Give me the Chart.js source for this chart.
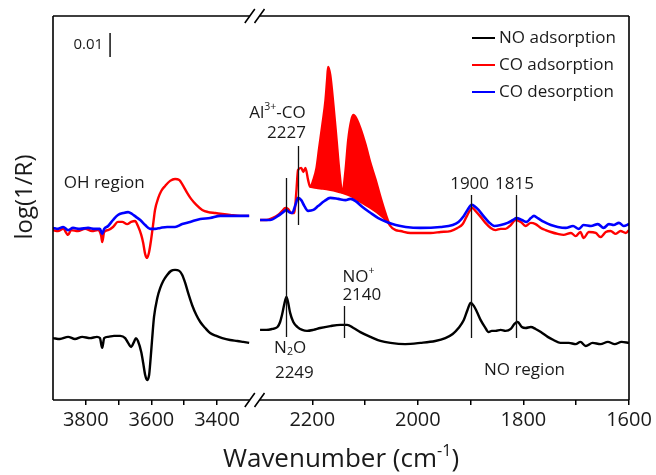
<!DOCTYPE html>
<html><head><meta charset="utf-8">
<script src="https://cdn.jsdelivr.net/npm/chart.js@4.4.0/dist/chart.umd.min.js"></script>
<style>html,body{margin:0;padding:0;background:#fff}canvas{display:block}</style>
</head><body>
<canvas id="c" width="656" height="475"></canvas>
<script>
// ---------- DATA (wavenumber in cm-1, log(1/R) in units of 0.001) ----------
const NO_ADS_WN = [3900,3879,3854,3833,3811,3787,3766,3757,3750,3744,3732,3714,3695,3680,3671,3662,3653,3647,3641,3631,3625,3619,3613,3607,3604,3598,3592,3582,3573,3564,3552,3540,3528,3515,3506,3497,3488,3476,3463,3451,3436,3421,3402,3384,3360,3338,3320,3302,
  2299,2287,2276,2266,2261,2257,2253,2249,2246,2242,2236,2228,2219,2210,2198,2185,2166,2147,2134,2122,2109,2090,2071,2052,2024,1995,1967,1948,1934,1923,1913,1906,1900,1894,1888,1881,1873,1866,1860,1853,1843,1834,1824,1817,1811,1803,1796,1786,1777,1767,1754,1743,1730,1714,1701,1692,1682,1669,1654,1640,1627,1614,1600];
const NO_ADS_VAL = [25.8,25.4,26.3,25.4,26.3,25.8,26.3,25.8,21.7,25.8,26.3,26.7,26.7,25.8,23.8,22.1,24.2,25.8,24.6,20.0,15.4,10.4,8.3,10.4,14.6,25.0,34.6,42.5,46.7,49.6,52.1,53.8,54.2,53.8,52.1,48.8,44.6,39.6,35.4,32.5,30.0,27.9,26.7,25.8,25.0,24.6,24.2,23.8,
  29.2,29.2,29.6,30.4,32.5,35.8,40.0,42.9,40.8,36.3,32.5,30.4,29.2,28.8,29.2,30.0,30.8,31.3,31.3,30.0,28.3,26.3,24.6,23.8,23.3,23.8,24.6,25.8,27.5,30.0,33.3,37.5,40.4,39.2,36.7,33.3,30.4,28.3,28.8,28.8,29.2,28.8,29.6,31.7,32.5,30.4,30.0,30.4,29.6,28.3,26.3,25.0,23.8,23.8,23.3,24.2,22.5,23.8,23.3,24.2,23.3,24.2,23.8];

const CO_ADS_WN = [3900,3885,3869,3854,3845,3824,3802,3781,3763,3753,3750,3744,3732,3717,3702,3689,3674,3662,3650,3641,3631,3625,3619,3613,3607,3601,3595,3589,3579,3570,3558,3543,3528,3515,3503,3491,3479,3463,3445,3427,3405,3384,3360,3329,3302,
  2299,2287,2276,2265,2257,2251,2246,2240,2234,2230,2227,2221,2217,2213,2208,2204,2198,2192,2187,2181,2175,2172,2170,2166,2160,2154,2149,2143,2137,2132,2126,2122,2117,2109,2099,2090,2080,2071,2061,2052,2042,2033,2014,1995,1976,1957,1938,1925,1915,1908,1902,1897,1891,1881,1872,1862,1853,1843,1834,1824,1815,1805,1796,1786,1777,1767,1758,1748,1735,1724,1710,1701,1692,1686,1676,1663,1654,1644,1635,1625,1616,1606,1600];
const CO_ADS_VAL = [70.8,70.4,71.3,68.8,70.8,70.4,71.3,70.4,70.8,68.3,65.8,70.0,70.8,72.1,74.2,74.2,73.3,74.2,74.6,72.5,68.8,65.4,60.8,59.2,61.7,66.7,72.9,79.2,84.2,87.1,89.2,91.3,92.1,91.7,89.2,86.3,83.8,81.3,79.2,78.3,77.9,77.5,77.1,76.7,76.7,
  75.0,75.0,75.8,77.1,78.8,80.0,79.6,77.9,77.9,87.5,95.8,96.7,95.0,96.7,91.7,88.8,91.7,96.7,105.0,114.6,125.0,133.3,138.8,135.4,122.9,108.3,95.8,86.3,95.8,108.3,116.7,118.8,117.5,113.3,106.3,98.8,91.7,84.6,77.5,72.5,70.8,70.4,69.6,69.6,69.6,70.0,70.4,71.7,73.3,76.3,78.8,80.0,78.8,76.3,73.8,71.7,70.8,71.3,71.3,72.9,75.0,74.2,72.5,73.8,73.3,71.7,70.8,70.0,69.2,68.8,69.6,68.3,70.0,67.5,70.0,69.6,67.9,70.0,70.4,69.2,70.4,69.6,70.8];

// lower envelope of the gas-phase CO rotational band (2204-2052 cm-1)
const CO_BAND_LOW_WN  = [2204,2192,2180,2166,2155,2143,2127,2109,2090,2071,2061,2052];
const CO_BAND_LOW_VAL = [88.8,88.3,88.0,87.5,87.0,86.3,85.0,82.5,80.0,77.0,75.0,72.5];

const CO_DES_WN = [3900,3885,3869,3854,3839,3818,3793,3772,3757,3750,3744,3732,3717,3702,3686,3671,3659,3647,3634,3619,3604,3589,3573,3552,3528,3506,3482,3451,3421,3390,3344,3302,
  2299,2280,2265,2255,2249,2244,2238,2232,2227,2221,2215,2208,2198,2189,2177,2166,2151,2137,2128,2118,2105,2090,2075,2059,2042,2023,1995,1957,1934,1923,1913,1906,1898,1893,1885,1876,1866,1855,1843,1830,1820,1813,1803,1794,1786,1780,1773,1761,1748,1735,1720,1706,1695,1686,1672,1659,1648,1638,1629,1619,1610,1600];
const CO_DES_VAL = [71.7,71.3,72.1,70.8,71.7,71.3,71.7,71.3,71.3,69.2,71.3,72.5,75.0,77.1,77.9,78.3,77.5,76.3,75.0,72.9,71.3,71.3,71.7,72.1,72.1,73.3,74.2,75.4,75.8,76.7,76.7,76.7,
  75.0,75.0,76.7,78.3,79.2,78.3,77.9,81.3,84.2,83.3,80.8,78.8,79.2,80.8,82.9,84.2,83.8,83.3,83.8,82.9,80.4,78.0,75.8,74.2,72.9,72.1,71.7,72.1,72.9,74.2,76.7,79.2,81.3,80.8,79.2,76.7,74.2,72.5,72.9,73.8,75.0,75.8,75.0,74.2,75.8,76.7,75.8,74.2,72.9,72.1,71.7,72.5,71.3,72.9,72.5,73.3,71.7,73.3,72.9,73.8,72.5,73.3];

const SERIES_LABELS = ['NO adsorption','CO adsorption','CO desorption'];
const X_TICKS_WN = [3800,3700,3600,3500,3400,2200,2100,2000,1900,1800,1700,1600];
const X_LABELED = [3800,3600,3400,2200,2000,1800,1600];

// peak markers: wavenumber and vertical extent (log(1/R) units)
const MARK_WN  = [2249,2227,2140,1900,1815];
const MARK_TOP = [92.5,105.8,39.2,85.4,85.4];
const MARK_BOT = [26.3,72.9,25.8,25.8,25.8];

// ---------- broken wavenumber axis mapping ----------
function u(w){ return w >= 2800 ? (3900 - w) * 0.3275 : 206.2 + (2300 - w) * 0.527; }
const U_MAX = u(1600);
function toPoints(wn, val){
  const pts = [];
  for (let i = 0; i < wn.length; i++){
    if (i > 0 && wn[i-1] >= 2800 && wn[i] < 2800) pts.push({x:(u(3300)+u(2300))/2, y:null});
    pts.push({x:u(wn[i]), y:val[i]});
  }
  return pts;
}

const FONT = "'Open Sans', 'Noto Sans', sans-serif";
const TXT = '#1a1a1a';
const RED = '#ff0000', BLUE = '#0000ff', BLACK = '#000000';

function drawRich(ctx, parts, x, y, size, align){
  const sub = size * 0.62;
  let total = 0;
  const widths = parts.map(p => {
    ctx.font = (p[1] ? sub : size) + 'px ' + FONT;
    const w = ctx.measureText(p[0]).width; total += w; return w;
  });
  let cx = align === 'left' ? x : align === 'right' ? x - total : x - total/2;
  ctx.textAlign = 'left'; ctx.textBaseline = 'middle'; ctx.fillStyle = TXT;
  parts.forEach((p, i) => {
    let yy = y;
    if (p[1] === 'sup') yy = y - size*0.33;
    if (p[1] === 'sub') yy = y + size*0.25;
    ctx.font = (p[1] ? sub : size) + 'px ' + FONT;
    ctx.fillText(p[0], cx, yy);
    cx += widths[i];
  });
}

const decor = {
  id:'decor',
  afterDraw(chart){
    const ctx = chart.ctx, a = chart.chartArea, xs = chart.scales.x, ys = chart.scales.y;
    const X = w => xs.getPixelForValue(u(w)), Y = v => ys.getPixelForValue(v);
    ctx.save();
    // frame with axis break
    const b1 = X(3300), b2 = X(2300);
    ctx.strokeStyle = BLACK; ctx.lineWidth = 1.6; ctx.lineCap = 'butt';
    ctx.beginPath();
    [a.top, a.bottom].forEach(yy => {
      ctx.moveTo(a.left, yy); ctx.lineTo(b1, yy);
      ctx.moveTo(b2, yy); ctx.lineTo(a.right, yy);
    });
    ctx.moveTo(a.left, a.top); ctx.lineTo(a.left, a.bottom);
    ctx.moveTo(a.right, a.top); ctx.lineTo(a.right, a.bottom);
    ctx.stroke();
    ctx.beginPath();
    [a.top, a.bottom].forEach(yy => {
      [b1, b2].forEach(bx => { ctx.moveTo(bx - 5, yy + 7); ctx.lineTo(bx + 5, yy - 7); });
    });
    ctx.stroke();

    // peak markers
    ctx.lineWidth = 1.3; ctx.strokeStyle = '#111';
    ctx.beginPath();
    MARK_WN.forEach((w, i) => { const px = Math.round(X(w)) + 0.5; ctx.moveTo(px, Y(MARK_TOP[i])); ctx.lineTo(px, Y(MARK_BOT[i])); });
    ctx.stroke();

    // scale bar: 0.01 = 10 units
    ctx.lineWidth = 1.5;
    ctx.beginPath(); ctx.moveTo(X(3726), Y(152.9)); ctx.lineTo(X(3726), Y(142.9)); ctx.stroke();
    drawRich(ctx, [['0.01']], X(3747), Y(147.9), 15, 'right');

    // annotations
    drawRich(ctx, [['OH region']], X(3744), Y(90.4), 17, 'center');
    drawRich(ctx, [['Al'],['3+','sup'],['-CO']], X(2266), Y(119.6), 17, 'center');
    drawRich(ctx, [['2227']], X(2249), Y(111.3), 17, 'center');
    drawRich(ctx, [['N'],['2','sub'],['O']], X(2242), Y(21.7), 17, 'center');
    drawRich(ctx, [['2249']], X(2234), Y(11.3), 17, 'center');
    drawRich(ctx, [['NO'],['+','sup']], X(2143), Y(51.3), 17, 'left');
    drawRich(ctx, [['2140']], X(2143), Y(43.8), 17, 'left');
    drawRich(ctx, [['1900']], X(1902), Y(90), 17, 'center');
    drawRich(ctx, [['1815']], X(1817), Y(90), 17, 'center');
    drawRich(ctx, [['NO region']], X(1798), Y(12.5), 17, 'center');

    // legend
    const shown = chart.data.datasets.filter(d => !d.label.startsWith('_'));
    shown.forEach((d, i) => {
      const ly = a.top + 22 + i * 27;
      ctx.strokeStyle = d.borderColor; ctx.lineWidth = 2;
      ctx.beginPath(); ctx.moveTo(a.right - 157, ly); ctx.lineTo(a.right - 134, ly); ctx.stroke();
      drawRich(ctx, [[d.label]], a.right - 130, ly, 17, 'left');
    });

    // axis titles
    drawRich(ctx, [['Wavenumber (cm'],['-1','sup'],[')']], (a.left + a.right)/2, 460, 26, 'center');
    ctx.translate(25, 197); ctx.rotate(-Math.PI/2);
    drawRich(ctx, [['log(1/R)']], 0, 0, 24, 'center');
    ctx.restore();
  }
};

const bgPlugin = { id:'bg', beforeDraw(chart){ const c = chart.ctx; c.save(); c.fillStyle = '#fff'; c.fillRect(0,0,chart.width,chart.height); c.restore(); } };

new Chart(document.getElementById('c'), {
  type:'line',
  data:{ datasets:[
    { label:SERIES_LABELS[0], data:toPoints(NO_ADS_WN, NO_ADS_VAL), borderColor:BLACK, borderWidth:2.4, order:3 },
    { label:SERIES_LABELS[1], data:toPoints(CO_ADS_WN, CO_ADS_VAL), borderColor:RED, borderWidth:2.4, order:2 },
    { label:'_band', data:toPoints(CO_BAND_LOW_WN, CO_BAND_LOW_VAL), borderColor:RED, borderWidth:2, backgroundColor:RED, fill:{target:1}, order:2 },
    { label:SERIES_LABELS[2], data:toPoints(CO_DES_WN, CO_DES_VAL), borderColor:BLUE, borderWidth:2.6, order:1 }
  ]},
  options:{
    responsive:false, animation:false, events:[],
    parsing:false, spanGaps:false,
    elements:{ point:{ radius:0 }, line:{ tension:0, cubicInterpolationMode:'monotone', borderJoinStyle:'round' } },
    layout:{ padding:{ top:16, right:27, left:0, bottom:0 } },
    plugins:{ legend:{ display:false }, tooltip:{ enabled:false } },
    scales:{
      x:{ type:'linear', min:0, max:U_MAX,
        afterBuildTicks: s => { s.ticks = X_TICKS_WN.map(w => ({ value:u(w) })); },
        afterFit: s => { s.height = 75; },
        ticks:{ autoSkip:false, maxRotation:0, padding:3, color:TXT, font:{ family:FONT, size:20 },
          callback:(v, i) => X_LABELED.includes(X_TICKS_WN[i]) ? String(X_TICKS_WN[i]) : '' },
        grid:{ drawOnChartArea:false, drawTicks:true, tickLength:5, color:BLACK, lineWidth:1.5 },
        border:{ display:false } },
      y:{ min:0, max:160,
        afterFit: s => { s.width = 53; },
        ticks:{ display:false }, grid:{ display:false }, border:{ display:false } }
    }
  },
  plugins:[bgPlugin, decor]
});
</script>
</body></html>
